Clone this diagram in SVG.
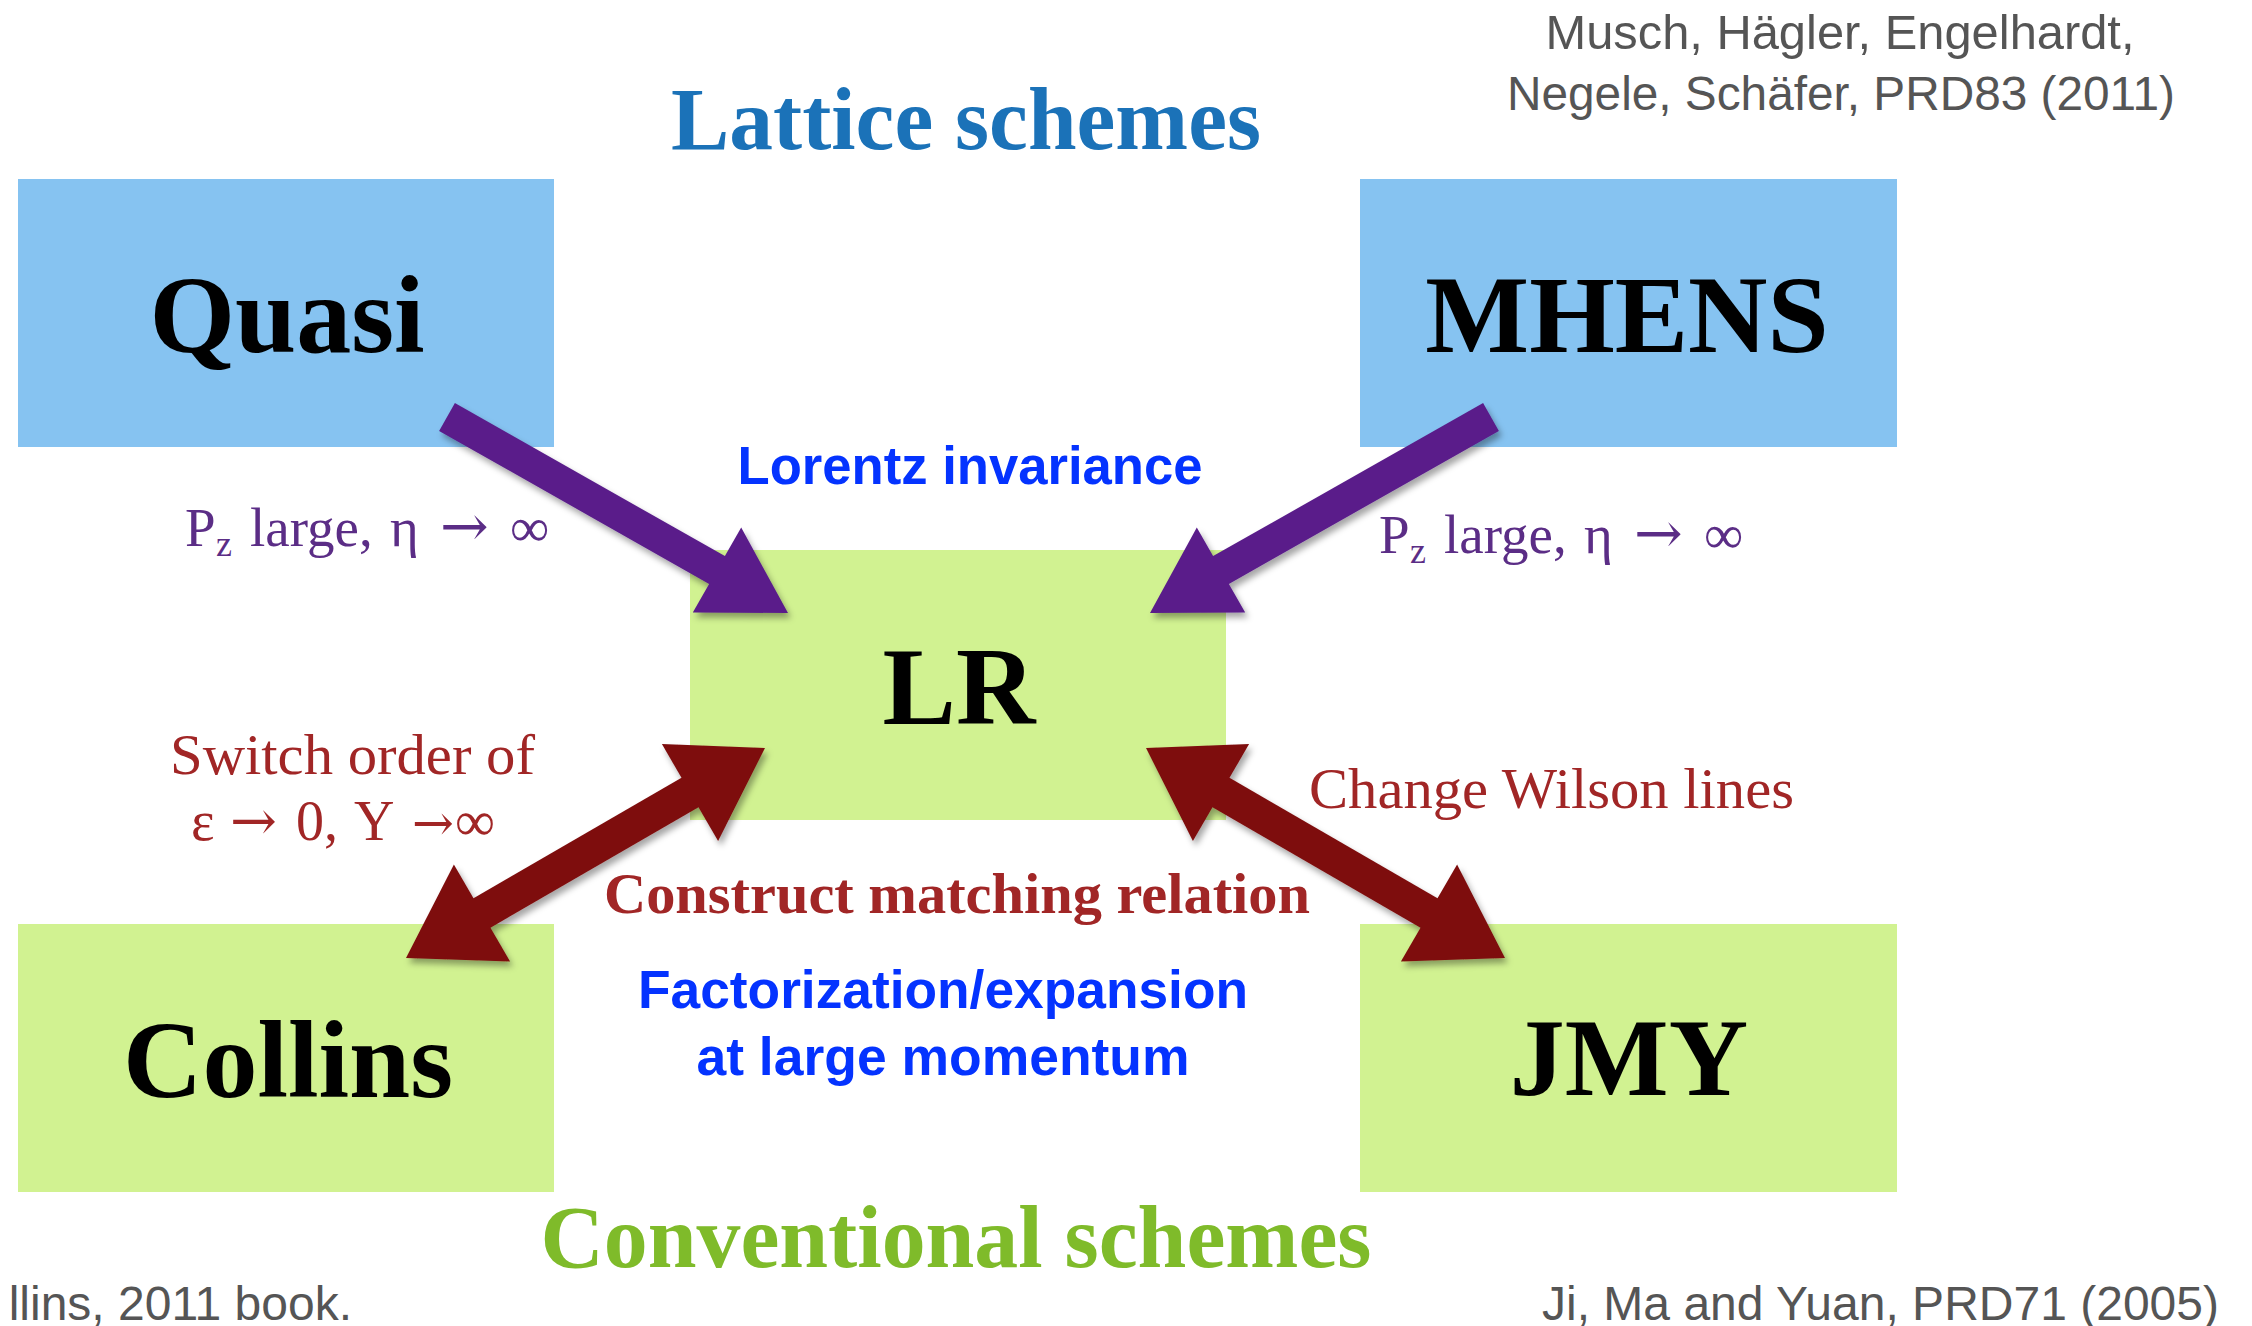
<svg xmlns="http://www.w3.org/2000/svg" width="2252" height="1326" viewBox="0 0 2252 1326">
<style>
.bg{fill:#ffffff}
.blue{fill:#86c3f1}
.green{fill:#d1f291}
.node{font-family:"Liberation Serif","Times New Roman",serif;font-weight:bold;font-size:110px;fill:#000;text-anchor:middle}
.head{font-family:"Liberation Serif","Times New Roman",serif;font-weight:bold;font-size:88px}
.cite{font-family:"Liberation Sans",Arial,sans-serif;font-size:48px;fill:#555555}
.note{font-family:"Liberation Sans",Arial,sans-serif;font-weight:bold;font-size:53px;fill:#0433ff;text-anchor:middle}
.pz{font-family:"Liberation Serif","Times New Roman",serif;font-size:55px;fill:#5b2d86}
.red{font-family:"Liberation Serif","Times New Roman",serif;font-size:56px;fill:#a12626}
.arr{font-family:"DejaVu Serif",serif}
.purple{fill:#5a1f8a}
.maroon{fill:#7e1111}
</style>
<defs>
<filter id="sh" x="-10%" y="-10%" width="130%" height="130%">
<feDropShadow dx="3" dy="5" stdDeviation="3" flood-color="#000" flood-opacity="0.35"/>
</filter>
</defs>
<rect class="bg" x="0" y="0" width="2252" height="1326"/>

<text class="head" x="966" y="149" text-anchor="middle" fill="#1b72b8" textLength="590" lengthAdjust="spacingAndGlyphs">Lattice schemes</text>
<text class="head" x="956" y="1267" text-anchor="middle" fill="#7fbb2a" textLength="831" lengthAdjust="spacingAndGlyphs">Conventional schemes</text>

<text class="cite" x="1840" y="49" text-anchor="middle" textLength="589" lengthAdjust="spacingAndGlyphs">Musch, Hägler, Engelhardt,</text>
<text class="cite" x="1841" y="110" text-anchor="middle" textLength="668" lengthAdjust="spacingAndGlyphs">Negele, Schäfer, PRD83 (2011)</text>
<text class="cite" x="352" y="1320" text-anchor="end">llins, 2011 book.</text>
<text class="cite" x="1542" y="1320" textLength="677" lengthAdjust="spacingAndGlyphs">Ji, Ma and Yuan, PRD71 (2005)</text>

<g id="quasi">
<rect class="blue" x="18" y="179" width="536" height="268"/>
<text class="node" x="287" y="352">Quasi</text>
</g>
<g id="mhens">
<rect class="blue" x="1360" y="179" width="537" height="268"/>
<text class="node" x="1627" y="352">MHENS</text>
</g>
<g id="lr">
<rect class="green" x="690" y="550" width="536" height="270"/>
<text class="node" x="959" y="724">LR</text>
</g>
<g id="collins">
<rect class="green" x="18" y="924" width="536" height="268"/>
<text class="node" x="288" y="1097">Collins</text>
</g>
<g id="jmy">
<rect class="green" x="1360" y="924" width="537" height="268"/>
<text class="node" x="1629" y="1095">JMY</text>
</g>

<g id="connectors" filter="url(#sh)">
<polygon class="purple" points="439.1,430.9 709.1,583.9 692.8,612.6 788,613 741.2,527.4 724.9,556.1 454.9,403.1"/>
<polygon class="purple" points="1498.9,430.9 1228.9,583.9 1245.2,612.6 1150,613 1196.8,527.4 1213.1,556.1 1483.1,403.1"/>
<polygon class="maroon" points="490.5,927.7 698.5,807.2 718.1,840.9 765,748 661.9,744.1 681.5,777.8 473.5,898.3 453.9,864.6 406,958 510.1,961.4"/>
<polygon class="maroon" points="1420.5,927.7 1212.5,807.2 1192.9,840.9 1146,748 1249.1,744.1 1229.5,777.8 1437.5,898.3 1457.1,864.6 1505,958 1400.9,961.4"/>
</g>

<text class="note" x="970" y="484" textLength="465" lengthAdjust="spacingAndGlyphs">Lorentz invariance</text>
<text class="note" x="943" y="1008" textLength="610" lengthAdjust="spacingAndGlyphs">Factorization/expansion</text>
<text class="note" x="943" y="1075" textLength="493" lengthAdjust="spacingAndGlyphs">at large momentum</text>

<text class="pz"><tspan x="185" y="546">P</tspan><tspan x="216" y="556" font-size="36">z</tspan><tspan x="250" y="546">large,</tspan><tspan x="390" y="546">η</tspan><tspan class="arr" x="440" y="546" font-size="58">→</tspan><tspan x="510" y="546">∞</tspan></text>
<text class="pz"><tspan x="1379" y="553">P</tspan><tspan x="1410" y="563" font-size="36">z</tspan><tspan x="1444" y="553">large,</tspan><tspan x="1584" y="553">η</tspan><tspan class="arr" x="1634" y="553" font-size="58">→</tspan><tspan x="1704" y="553">∞</tspan></text>

<text class="red" x="170" y="774" textLength="365" lengthAdjust="spacingAndGlyphs">Switch order of</text>
<text class="red"><tspan x="191" y="840">ε</tspan><tspan class="arr" x="230" y="840" font-size="56">→</tspan><tspan x="296" y="840">0,</tspan><tspan x="354" y="840">Y</tspan><tspan class="arr" x="412" y="840" font-size="50">→</tspan><tspan x="455" y="840">∞</tspan></text>
<text class="red" x="1309" y="808" textLength="485" lengthAdjust="spacingAndGlyphs">Change Wilson lines</text>
<text class="red" x="604" y="913" font-weight="bold" textLength="706" lengthAdjust="spacingAndGlyphs">Construct matching relation</text>
</svg>
